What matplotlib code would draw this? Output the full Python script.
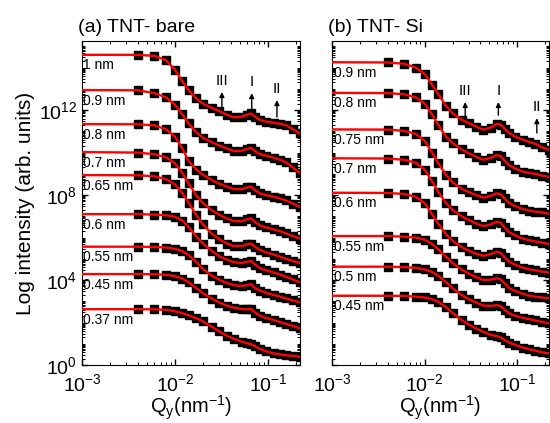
import numpy as np
import matplotlib
matplotlib.use('Agg')
import matplotlib.pyplot as plt
from matplotlib.ticker import LogLocator, NullFormatter

plt.rcParams['font.family'] = ['Liberation Sans', 'DejaVu Sans']
plt.rcParams['mathtext.fontset'] = 'custom'
plt.rcParams['mathtext.rm'] = 'Liberation Sans'
plt.rcParams['mathtext.it'] = 'Liberation Sans:italic'

# q grid of the fitted curves (nm^-1)
q_fit = [0.001, 0.004, 0.006, 0.008, 0.01, 0.012, 0.014, 0.017, 0.02, 0.025,
         0.03, 0.036, 0.043, 0.052, 0.06, 0.066, 0.073, 0.082, 0.095, 0.115,
         0.135, 0.155, 0.185, 0.22]

# (a) TNT- bare : log10 intensity
labels_a = ['1 nm', '0.9 nm', '0.8 nm', '0.7 nm', '0.65 nm', '0.6 nm',
            '0.55 nm', '0.45 nm', '0.37 nm']
logI_a = [
    [14.6, 14.6, 14.55, 14.35, 13.9, 13.35, 12.95, 12.55, 12.3, 12.1, 11.95, 11.78,
     11.66, 11.68, 11.78, 11.84, 11.68, 11.54, 11.46, 11.4, 11.36, 11.3, 11.1, 10.9],
    [12.94, 12.93, 12.8, 12.6, 12.25, 11.8, 11.37, 10.95, 10.7, 10.48, 10.33, 10.2,
     10.07, 10.08, 10.17, 10.22, 10.06, 9.93, 9.86, 9.76, 9.66, 9.55, 9.3, 9.05],
    [11.34, 11.33, 11.28, 11.1, 10.75, 10.2, 9.6, 9.2, 8.95, 8.7, 8.53, 8.4,
     8.28, 8.28, 8.36, 8.4, 8.22, 8.08, 8.0, 7.92, 7.84, 7.75, 7.6, 7.45],
    [10.02, 10.0, 9.92, 9.78, 9.5, 9.05, 8.55, 7.98, 7.62, 7.28, 7.07, 6.9,
     6.77, 6.77, 6.86, 6.9, 6.72, 6.58, 6.48, 6.38, 6.3, 6.2, 6.07, 5.95],
    [8.94, 8.93, 8.88, 8.75, 8.5, 8.1, 7.65, 7.05, 6.62, 6.18, 5.92, 5.72,
     5.6, 5.6, 5.68, 5.72, 5.55, 5.42, 5.3, 5.2, 5.1, 5.0, 4.9, 4.8],
    [7.1, 7.1, 7.08, 7.05, 6.98, 6.8, 6.5, 6.05, 5.72, 5.36, 5.12, 4.96,
     4.84, 4.8, 4.86, 4.9, 4.72, 4.56, 4.46, 4.36, 4.26, 4.16, 4.03, 3.9],
    [5.57, 5.57, 5.56, 5.53, 5.47, 5.36, 5.18, 4.85, 4.52, 4.2, 4.02, 3.86,
     3.76, 3.72, 3.76, 3.8, 3.62, 3.5, 3.4, 3.3, 3.22, 3.14, 3.04, 2.95],
    [4.28, 4.28, 4.27, 4.25, 4.18, 4.07, 3.9, 3.62, 3.38, 3.12, 2.94, 2.8,
     2.7, 2.63, 2.62, 2.64, 2.47, 2.32, 2.22, 2.12, 2.02, 1.94, 1.84, 1.73],
    [2.63, 2.63, 2.62, 2.6, 2.53, 2.44, 2.34, 2.2, 2.05, 1.8, 1.58, 1.38,
     1.24, 1.1, 1.02, 0.98, 0.88, 0.76, 0.65, 0.55, 0.5, 0.46, 0.43, 0.39],
]

# (b) TNT- Si : log10 intensity
labels_b = ['0.9 nm', '0.8 nm', '0.75 nm', '0.7 nm', '0.6 nm', '0.55 nm',
            '0.5 nm', '0.45 nm']
logI_b = [
    [14.25, 14.24, 14.18, 14.0, 13.7, 13.2, 12.75, 12.2, 11.85, 11.55, 11.38, 11.22,
     11.08, 11.18, 11.35, 11.32, 11.12, 10.92, 10.75, 10.6, 10.5, 10.42, 10.25, 10.12],
    [12.81, 12.8, 12.74, 12.6, 12.3, 11.8, 11.3, 10.75, 10.45, 10.15, 9.96, 9.8,
     9.66, 9.75, 9.88, 9.84, 9.62, 9.4, 9.25, 9.1, 9.04, 9.0, 8.92, 8.85],
    [11.09, 11.08, 11.02, 10.88, 10.55, 10.0, 9.5, 8.95, 8.6, 8.3, 8.14, 8.0,
     7.88, 7.96, 8.08, 8.04, 7.84, 7.62, 7.48, 7.34, 7.27, 7.22, 7.18, 7.12],
    [9.73, 9.72, 9.66, 9.52, 9.2, 8.65, 8.15, 7.62, 7.3, 7.0, 6.82, 6.66,
     6.54, 6.62, 6.74, 6.7, 6.48, 6.25, 6.1, 5.95, 5.87, 5.82, 5.76, 5.7],
    [8.11, 8.1, 8.05, 7.92, 7.62, 7.1, 6.65, 6.15, 5.85, 5.55, 5.38, 5.24,
     5.14, 5.22, 5.33, 5.28, 5.08, 4.86, 4.72, 4.58, 4.5, 4.46, 4.4, 4.35],
    [6.07, 6.07, 6.04, 6.0, 5.9, 5.7, 5.45, 5.1, 4.8, 4.5, 4.3, 4.14,
     4.0, 4.02, 4.08, 4.04, 3.85, 3.62, 3.48, 3.35, 3.27, 3.22, 3.18, 3.14],
    [4.63, 4.63, 4.61, 4.57, 4.5, 4.38, 4.2, 3.9, 3.62, 3.3, 3.1, 2.94,
     2.8, 2.78, 2.82, 2.78, 2.6, 2.43, 2.32, 2.22, 2.16, 2.1, 2.03, 1.96],
    [3.26, 3.26, 3.25, 3.22, 3.18, 3.1, 2.98, 2.72, 2.45, 2.12, 1.9, 1.72,
     1.56, 1.42, 1.36, 1.3, 1.18, 1.05, 0.95, 0.82, 0.74, 0.68, 0.6, 0.55],
]

# peak markers: q position, arrow base, arrow tip (log10 I)
peaks = ['III', 'I', 'II']
arrow_q_a = [0.032, 0.067, 0.125]
arrow_base_a = [12.14, 12.0, 11.67]
arrow_tip_a = [12.85, 12.8, 12.47]
arrow_q_b = [0.0274, 0.0625, 0.163]
arrow_base_b = [11.67, 11.76, 10.92]
arrow_tip_b = [12.38, 12.38, 11.62]

fig = plt.figure(figsize=(5.5, 4.23), dpi=100)
ax_a = fig.add_axes([0.149, 0.137, 0.396, 0.766])
ax_b = fig.add_axes([0.604, 0.137, 0.394, 0.766])


def draw_panel(ax, labels, curves, title, aq, abase, atip):
    q = np.array(q_fit)
    for lab, y in zip(labels, curves):
        I = np.power(10.0, y)
        ax.plot(q[1:], I[1:], 's', color='k', ms=6, zorder=2)
        ax.plot(q, I, color='red', lw=1.7, zorder=3)
        ax.annotate(lab, xy=(q[0], I[0]), xytext=(1, -2.5), textcoords='offset points',
                    ha='left', va='top', fontsize=10, zorder=4)
    for name, xq, b, t in zip(peaks, aq, abase, atip):
        ax.annotate('', xy=(xq, 10 ** t), xytext=(xq, 10 ** b),
                    arrowprops=dict(arrowstyle='-|>', color='k', lw=1.0,
                                    mutation_scale=7, shrinkA=0, shrinkB=0))
        ax.text(xq, 10 ** (t + 0.2), name, ha='center', va='bottom', fontsize=11)
    ax.set_xscale('log')
    ax.set_yscale('log')
    ax.set_xlim(1e-3, 0.22)
    ax.set_ylim(1, 10 ** 15.25)
    ax.set_xticks([1e-3, 1e-2, 1e-1])
    ax.xaxis.set_minor_locator(LogLocator(base=10, subs=np.arange(2, 10), numticks=50))
    ax.xaxis.set_minor_formatter(NullFormatter())
    ax.set_yticks([1, 1e4, 1e8, 1e12])
    ax.yaxis.set_minor_locator(LogLocator(base=10, subs=np.arange(1, 10), numticks=100))
    ax.yaxis.set_minor_formatter(NullFormatter())
    ax.tick_params(which='both', direction='in', top=True, right=True, labelsize=14)
    ax.tick_params(which='major', length=4, width=1)
    ax.tick_params(which='minor', length=2, width=0.7)
    ax.tick_params(axis='x', which='major', pad=6)
    ax.set_xlabel('Q$_\\mathrm{y}$(nm$^\\mathrm{-1}$)', fontsize=14.5, labelpad=-1)
    ax.text(-0.02, 1.015, title, transform=ax.transAxes, ha='left', va='bottom',
            fontsize=14)


draw_panel(ax_a, labels_a, logI_a, '(a) TNT- bare', arrow_q_a, arrow_base_a, arrow_tip_a)
draw_panel(ax_b, labels_b, logI_b, '(b) TNT- Si', arrow_q_b, arrow_base_b, arrow_tip_b)
ax_b.tick_params(labelleft=False)
ax_a.set_ylabel('Log intensity (arb. units)', fontsize=15, labelpad=3)

fig.savefig('out.png', dpi=100)
